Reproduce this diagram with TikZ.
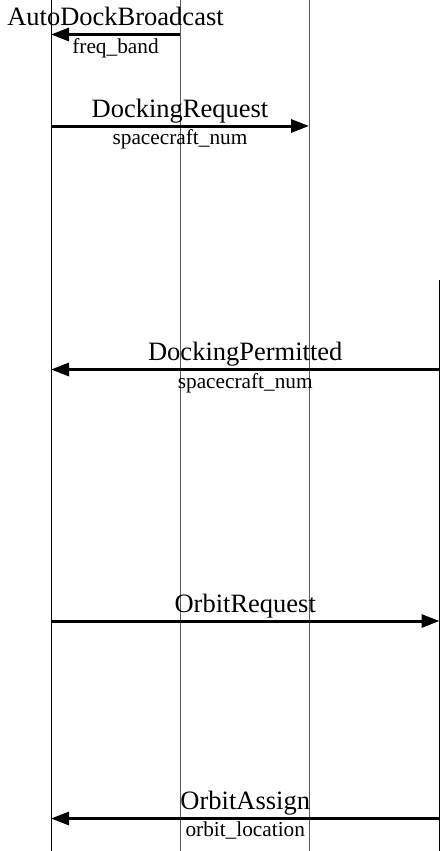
\documentclass[tikz,border=0pt]{standalone}
\usepackage{fontspec}
\setmainfont{Liberation Serif}
\usetikzlibrary{arrows.meta, positioning}

\begin{document}
\begin{tikzpicture}[
          x=1pt, y=1pt,
          life/.style={line width=1pt, draw=black},
          lifegray/.style={line width=1pt, draw=black!65},
          msg/.style={-{Triangle[length=18pt, width=13pt]}, line width=3pt},
          msgname/.style={anchor=base, inner sep=0pt, font=\fontsize{26.5}{28}\selectfont},
          msgparam/.style={anchor=base, inner sep=0pt, font=\fontsize{21.3}{23}\selectfont}
        ]
          \useasboundingbox (0,0) rectangle (441,-851);

          % lifelines
          \coordinate (ltop) at (51,0);     \coordinate (lbot) at (51,-851);
          \coordinate (btop) at (180,0);    \coordinate (bbot) at (180,-851);
          \coordinate (ctop) at (309,0);    \coordinate (cbot) at (309,-851);
          \coordinate (rtop) at (439.5,-280); \coordinate (rbot) at (439.5,-851);
          \draw[life] (ltop) -- (lbot);
          \draw[lifegray] (btop) -- (bbot);
          \draw[lifegray] (ctop) -- (cbot);
          \draw[life] (rtop) -- (rbot);

          % message end points
          \coordinate (m1s) at (180,-34.5);  \coordinate (m1e) at (51,-34.5);
          \coordinate (m2s) at (51,-126);    \coordinate (m2e) at (309,-126);
          \coordinate (m3s) at (439.5,-369.5); \coordinate (m3e) at (51,-369.5);
          \coordinate (m4s) at (51,-621);    \coordinate (m4e) at (439.5,-621);
          \coordinate (m5s) at (439.5,-818.5); \coordinate (m5e) at (51,-818.5);

          % messages
          \draw[msg] (m1s) -- (m1e)
            node[msgname, midway, yshift=9pt] (broadcast) {AutoDockBroadcast}
            node[msgparam, midway, yshift=-19pt] (freq) {freq\_band};
          \draw[msg] (m2s) -- (m2e)
            node[msgname, midway, yshift=9pt] (request) {DockingRequest}
            node[msgparam, midway, yshift=-18pt] (reqnum) {spacecraft\_num};
          \draw[msg] (m3s) -- (m3e)
            node[msgname, midway, yshift=9pt] (permitted) {DockingPermitted}
            node[msgparam, midway, yshift=-19pt] (permnum) {spacecraft\_num};
          \draw[msg] (m4s) -- (m4e)
            node[msgname, midway, yshift=9pt] (orbitreq) {OrbitRequest};
          \draw[msg] (m5s) -- (m5e)
            node[msgname, midway, yshift=9pt] (assign) {OrbitAssign}
            node[msgparam, midway, yshift=-18pt] (location) {orbit\_location};
        \end{tikzpicture}
\end{document}
